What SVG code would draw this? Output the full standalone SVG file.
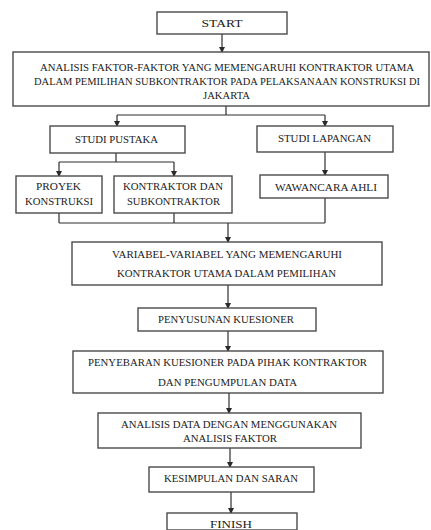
<svg xmlns="http://www.w3.org/2000/svg" width="431" height="530" viewBox="0 0 431 530">
<defs>
<marker id="ah" markerWidth="6" markerHeight="6" refX="5" refY="3" orient="auto" markerUnits="userSpaceOnUse">
<path d="M0,0 L6,3 L0,6 Z" fill="#2a2a2a"/>
</marker>
<style>
.box{fill:#fff;stroke:#4a4a4a;stroke-width:1.4}
.t{font-family:'Liberation Serif','DejaVu Serif','Times New Roman',serif;font-size:11px;fill:#222;text-anchor:middle}
.c{fill:none;stroke:#2e2e2e;stroke-width:1.2}
</style>
</defs>
<rect width="431" height="530" fill="#fff"/>
<g id="connectors">
<path class="c" d="M222,34 V52" marker-end="url(#ah)"/>
<path class="c" d="M226,106 V115 M117,115 H325"/>
<path class="c" d="M117,115 V126" marker-end="url(#ah)"/>
<path class="c" d="M325,115 V126" marker-end="url(#ah)"/>
<path class="c" d="M116,153 V162 M59,162 H174"/>
<path class="c" d="M59,162 V176" marker-end="url(#ah)"/>
<path class="c" d="M174,162 V176" marker-end="url(#ah)"/>
<path class="c" d="M325,152 V175" marker-end="url(#ah)"/>
<path class="c" d="M59,213 V223 M174,213 V223 M325,198 V223 M59,223 H325"/>
<path class="c" d="M228,223 V242" marker-end="url(#ah)"/>
<path class="c" d="M228,285 V308" marker-end="url(#ah)"/>
<path class="c" d="M228,331 V351" marker-end="url(#ah)"/>
<path class="c" d="M229,393 V413" marker-end="url(#ah)"/>
<path class="c" d="M230,448 V467" marker-end="url(#ah)"/>
<path class="c" d="M231,492 V513" marker-end="url(#ah)"/>
</g>
<g font-family="Liberation Serif, DejaVu Serif, serif">
<g id="start">
<rect class="box" x="157" y="12" width="130" height="22"/>
<text class="t" x="222" y="27" textLength="41" lengthAdjust="spacingAndGlyphs">START</text>
</g>
<g id="analisis-faktor">
<rect class="box" x="13" y="52" width="416" height="54"/>
<text class="t" x="227" y="71" textLength="374" lengthAdjust="spacingAndGlyphs">ANALISIS FAKTOR-FAKTOR YANG MEMENGARUHI KONTRAKTOR UTAMA</text>
<text class="t" x="227" y="85" style="font-size:10px" textLength="386" lengthAdjust="spacingAndGlyphs">DALAM PEMILIHAN SUBKONTRAKTOR PADA PELAKSANAAN KONSTRUKSI DI</text>
<text class="t" x="226.5" y="99" textLength="47" lengthAdjust="spacingAndGlyphs">JAKARTA</text>
</g>
<g id="studi-pustaka">
<rect class="box" x="50" y="126" width="135" height="27"/>
<text class="t" x="116.5" y="143" textLength="83" lengthAdjust="spacingAndGlyphs">STUDI PUSTAKA</text>
</g>
<g id="studi-lapangan">
<rect class="box" x="257" y="126" width="136" height="26"/>
<text class="t" x="324.5" y="142" textLength="93" lengthAdjust="spacingAndGlyphs">STUDI LAPANGAN</text>
</g>
<g id="proyek-konstruksi">
<rect class="box" x="16" y="176" width="86" height="37"/>
<text class="t" x="58.5" y="190" textLength="45" lengthAdjust="spacingAndGlyphs">PROYEK</text>
<text class="t" x="59" y="205" textLength="68" lengthAdjust="spacingAndGlyphs">KONSTRUKSI</text>
</g>
<g id="kontraktor-subkontraktor">
<rect class="box" x="114" y="176" width="118" height="37"/>
<text class="t" x="173" y="190" textLength="100" lengthAdjust="spacingAndGlyphs">KONTRAKTOR DAN</text>
<text class="t" x="173.5" y="205" textLength="93" lengthAdjust="spacingAndGlyphs">SUBKONTRAKTOR</text>
</g>
<g id="wawancara-ahli">
<rect class="box" x="260" y="175" width="128" height="23"/>
<text class="t" x="326" y="190.5" textLength="102" lengthAdjust="spacingAndGlyphs">WAWANCARA AHLI</text>
</g>
<g id="variabel">
<rect class="box" x="72" y="242" width="310" height="43"/>
<text class="t" x="227" y="258" textLength="230" lengthAdjust="spacingAndGlyphs">VARIABEL-VARIABEL YANG MEMENGARUHI</text>
<text class="t" x="226.5" y="277" textLength="219" lengthAdjust="spacingAndGlyphs">KONTRAKTOR UTAMA DALAM PEMILIHAN</text>
</g>
<g id="penyusunan">
<rect class="box" x="138" y="308" width="178" height="23"/>
<text class="t" x="226" y="323" textLength="136" lengthAdjust="spacingAndGlyphs">PENYUSUNAN KUESIONER</text>
</g>
<g id="penyebaran">
<rect class="box" x="73" y="351" width="310" height="42"/>
<text class="t" x="227.5" y="366" textLength="279" lengthAdjust="spacingAndGlyphs">PENYEBARAN KUESIONER PADA PIHAK KONTRAKTOR</text>
<text class="t" x="227.5" y="386" textLength="139" lengthAdjust="spacingAndGlyphs">DAN PENGUMPULAN DATA</text>
</g>
<g id="analisis-data">
<rect class="box" x="98" y="413" width="263" height="35"/>
<text class="t" x="229" y="428" textLength="216" lengthAdjust="spacingAndGlyphs">ANALISIS DATA DENGAN MENGGUNAKAN</text>
<text class="t" x="230" y="442" textLength="94" lengthAdjust="spacingAndGlyphs">ANALISIS FAKTOR</text>
</g>
<g id="kesimpulan">
<rect class="box" x="149" y="467" width="165" height="25"/>
<text class="t" x="231" y="482" textLength="134" lengthAdjust="spacingAndGlyphs">KESIMPULAN DAN SARAN</text>
</g>
<g id="finish">
<rect class="box" x="167" y="513" width="130" height="17"/>
<text class="t" x="231" y="528" textLength="42" lengthAdjust="spacingAndGlyphs">FINISH</text>
</g>
</g>
</svg>
